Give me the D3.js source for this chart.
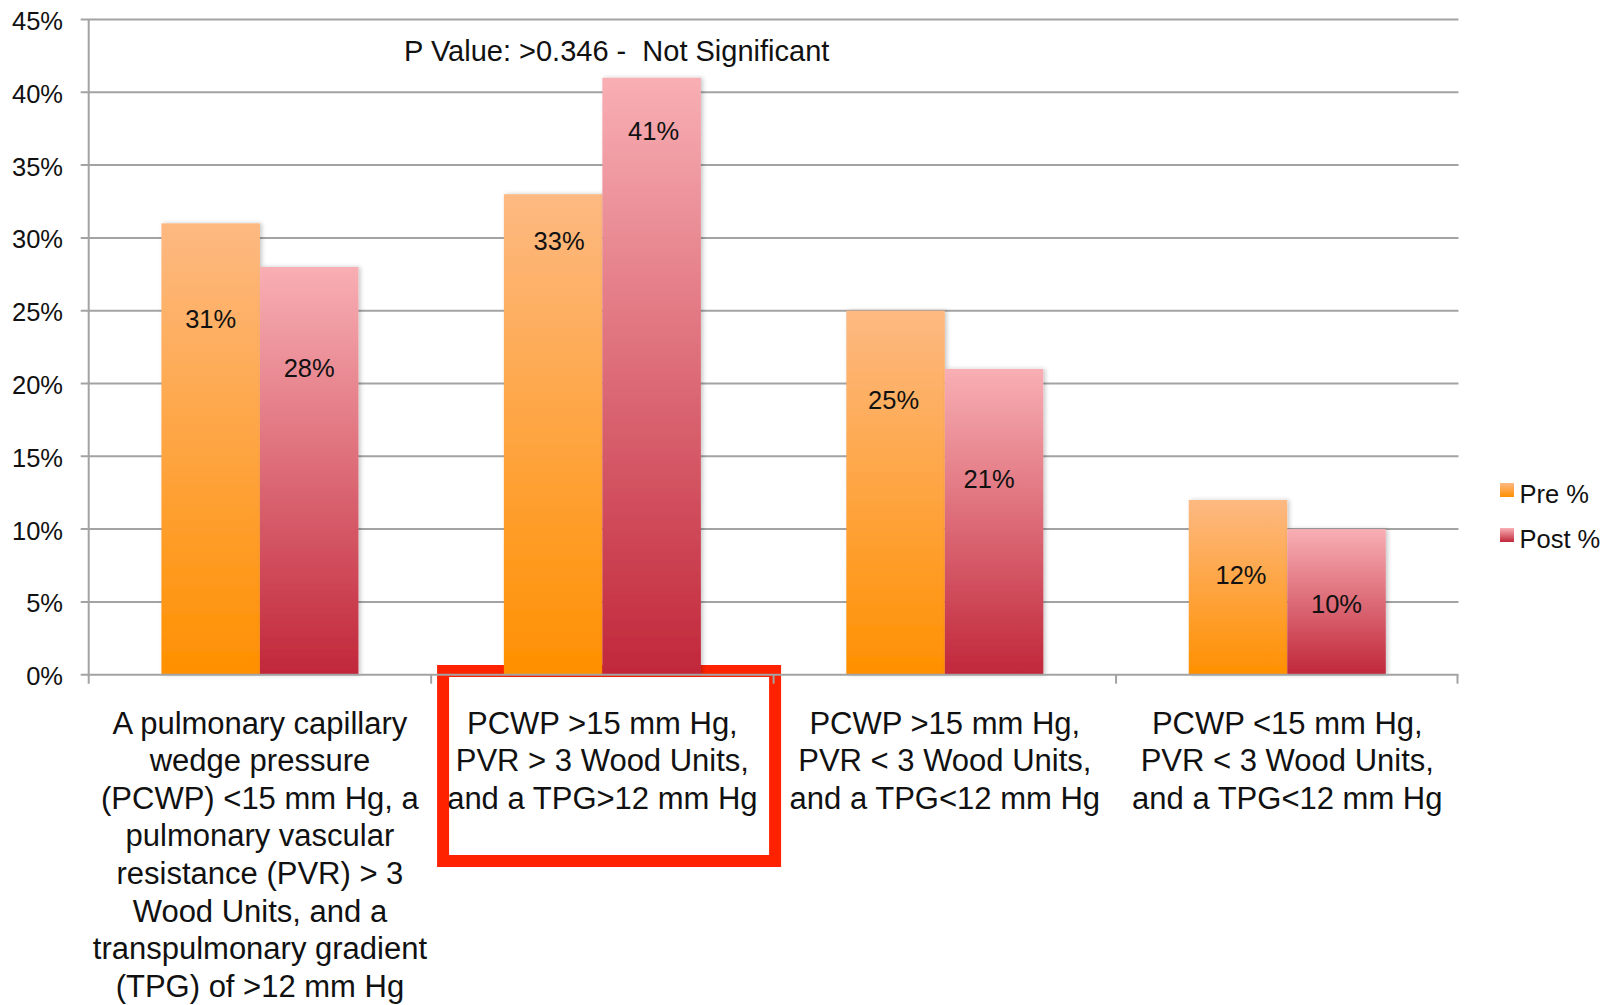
<!DOCTYPE html>
<html>
<head>
<meta charset="utf-8">
<script src="https://cdn.jsdelivr.net/npm/d3@7"></script>
<style>
  html, body { margin: 0; padding: 0; background: #fff; }
  svg { display: block; font-family: "Liberation Sans", Arial, Helvetica, sans-serif; }
</style>
</head>
<body>
<svg id="chart" width="1614" height="1005"></svg>
<script>
// Hemodynamic profile groups, pre vs post
const categories = [
  "A pulmonary capillary\nwedge pressure\n(PCWP) <15 mm Hg, a\npulmonary vascular\nresistance (PVR) > 3\nWood Units, and a\ntranspulmonary gradient\n(TPG) of >12 mm Hg",
  "PCWP >15 mm Hg,\nPVR > 3 Wood Units,\nand a TPG>12 mm Hg",
  "PCWP >15 mm Hg,\nPVR < 3 Wood Units,\nand a TPG<12 mm Hg",
  "PCWP <15 mm Hg,\nPVR < 3 Wood Units,\nand a TPG<12 mm Hg"
];
const seriesNames = ["Pre %", "Post %"];
const preValues = [31, 33, 25, 12];
const postValues = [28, 41, 21, 10];
const yTicks = [0, 5, 10, 15, 20, 25, 30, 35, 40, 45];
const annotation = "P Value: >0.346 -  Not Significant";
const highlightedCategory = 1;

const svg = d3.select("#chart");

const x0 = 88.7, x1 = 1458.5, yBase = 674.7, yTop = 19.5;
const y = d3.scaleLinear().domain([0, 45]).range([yBase, yTop]);
const xBand = d3.scaleBand().domain(d3.range(categories.length)).range([x0, x1]).padding(0);
const groupHalf = 98.5;
const xSeries = d3.scaleBand().domain([0, 1]).range([-groupHalf, groupHalf]).padding(0);

const gridColor = "#a3a3a3";
const tickFont = 25.5;

// gradients and shadow
const defs = svg.append("defs");
const gradStops = [
  [["0%", "#fdb982"], ["100%", "#ff9000"]],
  [["0%", "#f8afb4"], ["100%", "#c1273a"]]
];
gradStops.forEach((stops, i) => {
  const g = defs.append("linearGradient")
    .attr("id", "grad" + i).attr("x1", 0).attr("y1", 0).attr("x2", 0).attr("y2", 1);
  stops.forEach(s => g.append("stop").attr("offset", s[0]).attr("stop-color", s[1]));
});
const shadow = defs.append("filter").attr("id", "shadow")
  .attr("x", "-10%").attr("y", "-5%").attr("width", "120%").attr("height", "110%");
shadow.append("feDropShadow").attr("dx", 2).attr("dy", 0).attr("stdDeviation", 2.2)
  .attr("flood-color", "#000").attr("flood-opacity", 0.22);

// horizontal gridlines
svg.append("g").selectAll("line").data(yTicks.filter(t => t > 0)).join("line")
  .attr("x1", x0 - 8).attr("x2", x1)
  .attr("y1", d => y(d)).attr("y2", d => y(d))
  .attr("stroke", gridColor).attr("stroke-width", 2);

// y tick labels
svg.append("g").selectAll("text").data(yTicks).join("text")
  .attr("x", 63).attr("y", d => y(d) + 10.5)
  .attr("text-anchor", "end").attr("font-size", tickFont).attr("fill", "#111")
  .text(d => d + "%");

// highlight frame around the second group label
const hx = xBand(highlightedCategory) + xBand.bandwidth() / 2;
svg.append("rect")
  .attr("x", hx - 159.3).attr("y", 671).attr("width", 332).attr("height", 190)
  .attr("fill", "none").attr("stroke", "#ff2200").attr("stroke-width", 12);

// bars
const rows = categories.map((c, i) => ({ i, vals: [preValues[i], postValues[i]] }));
const groups = svg.append("g").selectAll("g").data(rows).join("g")
  .attr("transform", d => `translate(${xBand(d.i) + xBand.bandwidth() / 2},0)`);

groups.selectAll("rect").data(d => d.vals.map((v, s) => ({ v, s }))).join("rect")
  .attr("x", d => xSeries(d.s))
  .attr("width", xSeries.bandwidth())
  .attr("y", d => y(d.v))
  .attr("height", d => yBase - y(d.v))
  .attr("fill", d => `url(#grad${d.s})`)
  .attr("filter", "url(#shadow)");

// value labels, placed inside each bar a little below its top
const labelDrop = [[96, 100.5], [47, 53], [89, 110], [75, 75]];
const labelNudge = [[0, 0], [6, 2], [-2, -5], [3, 0]];
groups.selectAll("text").data(d => d.vals.map((v, s) => ({ v, s, i: d.i }))).join("text")
  .attr("x", d => xSeries(d.s) + xSeries.bandwidth() / 2 + labelNudge[d.i][d.s])
  .attr("y", d => y(d.v) + labelDrop[d.i][d.s] + 9)
  .attr("text-anchor", "middle").attr("font-size", tickFont).attr("fill", "#111")
  .text(d => d.v + "%");

// axes lines and ticks
svg.append("line").attr("x1", x0).attr("x2", x0).attr("y1", yTop).attr("y2", yBase + 9)
  .attr("stroke", gridColor).attr("stroke-width", 2);
svg.append("line").attr("x1", x0 - 8).attr("x2", x1).attr("y1", yBase).attr("y2", yBase)
  .attr("stroke", gridColor).attr("stroke-width", 2);
svg.append("g").selectAll("line").data(d3.range(1, categories.length + 1)).join("line")
  .attr("x1", d => d === categories.length ? x1 - 1 : xBand(d))
  .attr("x2", d => d === categories.length ? x1 - 1 : xBand(d))
  .attr("y1", yBase).attr("y2", yBase + 9)
  .attr("stroke", gridColor).attr("stroke-width", 2);

// category labels
const catG = svg.append("g");
categories.forEach((c, i) => {
  const t = catG.append("text")
    .attr("text-anchor", "middle").attr("font-size", 31).attr("fill", "#111")
    .attr("x", xBand(i) + xBand.bandwidth() / 2).attr("y", 733.5);
  c.split("\n").forEach((line, k) => {
    t.append("tspan").attr("x", xBand(i) + xBand.bandwidth() / 2)
      .attr("dy", k === 0 ? 0 : 37.6).text(line);
  });
});

// annotation
svg.append("text").attr("x", 404).attr("y", 61)
  .attr("font-size", 29).attr("fill", "#111")
  .style("white-space", "pre")
  .text(annotation);

// legend
const legend = svg.append("g");
seriesNames.forEach((name, s) => {
  const ly = 483 + s * 45;
  legend.append("rect").attr("x", 1500).attr("y", ly).attr("width", 14).attr("height", 14)
    .attr("fill", `url(#grad${s})`);
  legend.append("text").attr("x", 1519.5).attr("y", ly + 19.5)
    .attr("font-size", 25.5).attr("fill", "#111").text(name);
});
</script>
</body>
</html>
